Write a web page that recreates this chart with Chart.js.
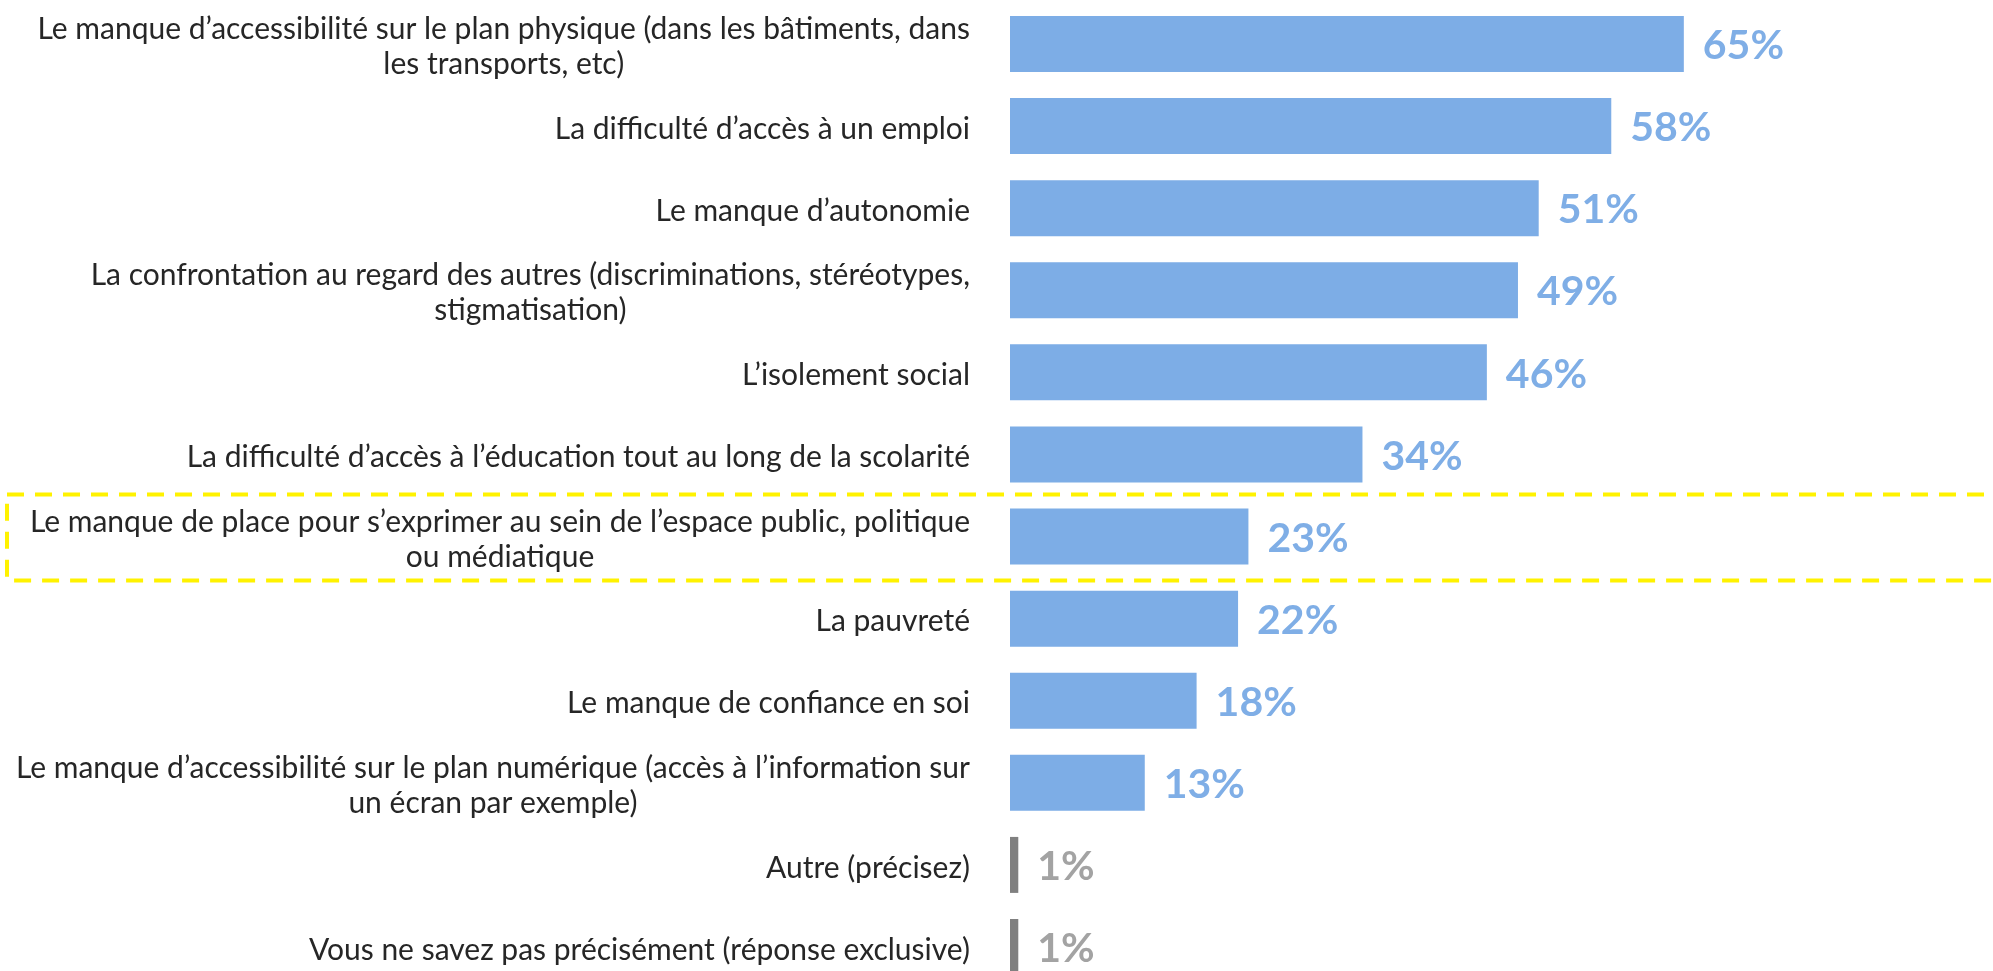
<!DOCTYPE html>
<html lang="fr">
<head>
<meta charset="utf-8">
<title>Freins</title>
<script src="https://cdn.jsdelivr.net/npm/chart.js@4.4.1/dist/chart.umd.min.js"></script>
<style>
  html, body { margin: 0; padding: 0; background: #ffffff; }
  #wrap { width: 1993px; height: 971px; position: relative; }
</style>
</head>
<body>
<div id="wrap"><canvas id="freinsChart"></canvas></div>
<script>
// Libellés (les lignes multiples sont des tableaux)
const categories = [
  ['Le manque d’accessibilité sur le plan physique (dans les bâtiments, dans', 'les transports, etc)'],
  'La difficulté d’accès à un emploi',
  'Le manque d’autonomie',
  ['La confrontation au regard des autres (discriminations, stéréotypes,', 'stigmatisation)'],
  'L’isolement social',
  'La difficulté d’accès à l’éducation tout au long de la scolarité',
  ['Le manque de place pour s’exprimer au sein de l’espace public, politique', 'ou médiatique'],
  'La pauvreté',
  'Le manque de confiance en soi',
  ['Le manque d’accessibilité sur le plan numérique (accès à l’information sur', 'un écran par exemple)'],
  'Autre (précisez)',
  'Vous ne savez pas précisément (réponse exclusive)'
];

// Pourcentages
const values = [65, 58, 51, 49, 46, 34, 23, 22, 18, 13, 0.8, 0.8];

// Réponses "autre" / "ne sait pas" en gris
const otherAnswers = [false, false, false, false, false, false, false, false, false, false, true, true];

// Ligne encadrée en pointillés jaunes
const highlightIndex = 6;

const BLUE = '#7DADE6';
const BLUE_LABEL = '#7FAEE6';
const GREY = '#808080';
const GREY_LABEL = '#A3A3A3';
const TEXT_FONT = '"Lato", "Open Sans", sans-serif';

let chart; // la gráfica

// Libellés de l'axe Y : bloc aligné à droite, lignes centrées
const categoryLabels = {
  id: 'categoryLabels',
  afterDraw(c) {
    const ctx = c.ctx;
    const yScale = c.scales.y;
    const right = c.chartArea.left - 40;
    const lineHeight = 35;
    ctx.save();
    ctx.font = '30px ' + TEXT_FONT;
    ctx.fillStyle = '#262626';
    ctx.textAlign = 'center';
    ctx.textBaseline = 'middle';
    categories.forEach((label, i) => {
      const lines = Array.isArray(label) ? label : [label];
      const maxW = Math.max(...lines.map(l => ctx.measureText(l).width));
      const cx = right - maxW / 2;
      const cy = yScale.getPixelForValue(i) + 3;
      const y0 = cy - (lines.length - 1) * lineHeight / 2;
      lines.forEach((l, k) => ctx.fillText(l, cx, y0 + k * lineHeight));
    });
    ctx.restore();
  }
};

// Valeurs au bout des barres
const valueLabels = {
  id: 'valueLabels',
  afterDatasetsDraw(c) {
    const ctx = c.ctx;
    const meta = c.getDatasetMeta(0);
    ctx.save();
    ctx.font = 'bold 41px ' + TEXT_FONT;
    ctx.textAlign = 'left';
    ctx.textBaseline = 'middle';
    meta.data.forEach((bar, i) => {
      ctx.fillStyle = otherAnswers[i] ? GREY_LABEL : BLUE_LABEL;
      ctx.fillText(Math.round(values[i]) + '%', bar.x + 19, bar.y + 2);
    });
    ctx.restore();
  }
};

// Cadre jaune en pointillés autour d'une ligne
const highlightBox = {
  id: 'highlightBox',
  afterDraw(c) {
    const ctx = c.ctx;
    const yScale = c.scales.y;
    const cy = yScale.getPixelForValue(highlightIndex);
    const pitch = yScale.getPixelForValue(1) - yScale.getPixelForValue(0);
    const top = cy - pitch / 2 - 1;
    const bottom = cy + pitch / 2 + 3;
    ctx.save();
    ctx.strokeStyle = '#FFF200';
    ctx.lineWidth = 4;
    ctx.setLineDash([17, 11]);
    ctx.strokeRect(7, top, c.width + 20, bottom - top);
    ctx.restore();
  }
};

function drawChart() {
  const ctx = document.getElementById('freinsChart').getContext('2d');
  if (chart) {
    chart.destroy();
  }
  chart = new Chart(ctx, {
    type: 'bar',
    data: {
      labels: categories,
      datasets: [{
        data: values,
        backgroundColor: otherAnswers.map(o => o ? GREY : BLUE),
        borderWidth: 0,
        categoryPercentage: 1,
        barPercentage: 0.682,
        clip: false
      }]
    },
    plugins: [categoryLabels, valueLabels, highlightBox],
    options: {
      indexAxis: 'y',
      responsive: true,
      maintainAspectRatio: false,
      animation: false,
      layout: {
        padding: { left: 1010, right: 50, top: 44, bottom: 24 }
      },
      plugins: {
        legend: { display: false },
        tooltip: { enabled: false }
      },
      scales: {
        x: {
          display: false,
          min: 0,
          max: 90
        },
        y: {
          display: false,
          offset: false
        }
      }
    }
  });
}

drawChart();
</script>
</body>
</html>
